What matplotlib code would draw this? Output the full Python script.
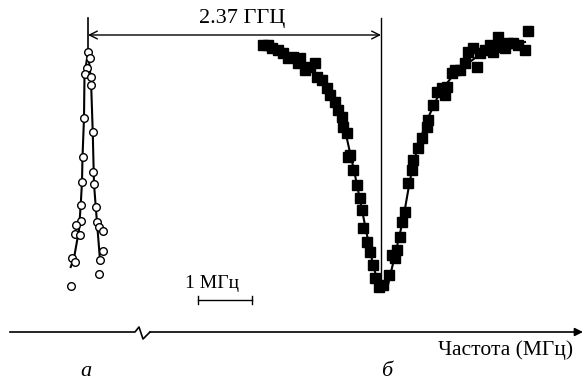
import matplotlib.pyplot as plt

# Frequency scan (a): narrow line, open circles (x, y in picture units)
a_x = [88.3, 90, 87.3, 84.7, 90.7, 91.3, 84.3, 92.7, 82.7, 93.3, 82, 94, 80.7, 96,
       80.7, 76, 96.7, 99.3, 102.7, 74.7, 80, 103.3, 72, 74.7, 100, 99.3, 70.7]
a_y = [52.3, 58.3, 67.7, 74.3, 77.3, 84.7, 118, 131.7, 157.3, 172, 182, 184, 205, 206.7,
       221, 224.7, 222, 227.3, 230.7, 233.7, 235.3, 250.7, 257.7, 261.7, 260, 274, 285.7]
a_fit_left_x = [88, 84.5, 84, 82.5, 82, 80.7, 79, 74, 70.7]
a_fit_left_y = [52, 75, 118, 157, 182, 205, 230, 258, 267]
a_fit_right_x = [88, 91, 92.7, 94, 96, 98, 100]
a_fit_right_y = [52, 80, 131, 184, 210, 235, 260]

# Frequency scan (б): broad dip, filled squares
b_x = [263.3, 268.3, 271.7, 278.3, 283.3, 288.3, 293.3, 298.3, 300, 305, 310, 315,
       316.7, 321.7, 326.7, 330, 335, 338.3, 341.7, 343.3, 346.7, 350,
       348.3, 353.3, 356.7, 360, 361.7, 363.3, 366.7, 370, 372.7, 375, 379.3,
       383.3, 389.3, 391.7, 395, 396.7, 400, 401.7, 405, 408.3, 411.7, 413.3,
       418.3, 421.7, 426.7, 428.3, 433.3, 436.7, 441.7, 445, 446.7, 451.7, 455,
       460, 465, 468.3, 473.3, 476.7, 480, 485, 490, 493.3, 498.3, 500, 505,
       508.3, 513.3, 518.3, 525, 527.7]
b_y = [45, 45, 48.3, 50, 53.3, 58.3, 56.7, 63.3, 58.3, 70, 66.7, 63.3,
       76.7, 80, 88.3, 95, 101.7, 110, 116.7, 126.7, 133.3, 155,
       156.7, 170, 185, 198.3, 210, 228.3, 241.7, 251.7, 265, 278.3, 286.7,
       285, 275, 255, 258.3, 250, 236.7, 221.7, 211.7, 183.3, 170, 160,
       148.3, 138.3, 126.7, 120, 105, 91.7, 88.3, 95, 86.7, 73.3, 70,
       70, 63.3, 51.7, 48.3, 66.7, 53.3, 50, 45, 51.7, 36.7, 46.7, 48.3,
       43.3, 43.3, 45, 50, 31]
b_fit_x = [275, 300, 320, 335, 345, 355, 365, 373, 380, 388, 395, 403, 410, 418,
           428, 440, 455, 475, 500, 525]
b_fit_y = [47, 60, 78, 100, 130, 175, 225, 265, 289, 285, 255, 220, 180, 145,
           118, 92, 73, 58, 47, 42]

# markers of the picture
line_a_x = 88
line_b_x = 381
arrow_y = 35
axis_y = 332

fig = plt.figure(figsize=(5.84, 3.85), dpi=100)
ax = fig.add_axes([0, 0, 1, 1])
ax.set_xlim(0, 584)
ax.set_ylim(385, 0)
ax.axis('off')

serif = 'Liberation Serif'

# curve a
ax.plot(a_fit_left_x, a_fit_left_y, color='black', lw=1.5, zorder=2)
ax.plot(a_fit_right_x, a_fit_right_y, color='black', lw=1.5, zorder=2)
ax.plot(a_x, a_y, 'o', ms=5.5, mfc='white', mec='black', mew=1, zorder=3)

# curve б
ax.plot(b_fit_x, b_fit_y, color='black', lw=1.5, zorder=2)
ax.plot(b_x, b_y, 's', ms=6.5, color='black', zorder=3)

# vertical reference lines and the distance arrow
ax.plot([line_a_x, line_a_x], [18, 52], color='black', lw=1.2)
ax.plot([line_b_x, line_b_x], [18, 290], color='black', lw=1)
ax.annotate('', xy=(line_a_x, arrow_y), xytext=(line_b_x, arrow_y),
            arrowprops=dict(arrowstyle='<->', color='black', lw=1,
                            mutation_scale=14, shrinkA=0, shrinkB=0))
ax.text(242, 18, '2.37 ГГЦ', family=serif, fontsize=16, ha='center', va='center')

# 1 MHz scale bar
ax.plot([198, 252], [300, 300], color='black', lw=1)
ax.plot([198, 198], [296, 304], color='black', lw=1)
ax.plot([252, 252], [296, 304], color='black', lw=1)
ax.text(212, 283, '1 МГц', family=serif, fontsize=14, ha='center', va='center')

# broken frequency axis
ax.plot([10, 135, 139, 143, 150], [axis_y, axis_y, axis_y - 5, axis_y + 7, axis_y],
        color='black', lw=1.2)
ax.annotate('', xy=(583, axis_y), xytext=(150, axis_y),
            arrowprops=dict(arrowstyle='-|>', color='black', lw=1.2,
                            mutation_scale=12, shrinkA=0, shrinkB=0))
ax.text(573, 350, 'Частота (МГц)', family=serif, fontsize=15.5, ha='right', va='center')
ax.text(86, 371, 'а', family=serif, style='italic', fontsize=16, ha='center', va='center')
ax.text(387, 371, 'б', family=serif, style='italic', fontsize=16, ha='center', va='center')

fig.savefig('out.png', dpi=100)
